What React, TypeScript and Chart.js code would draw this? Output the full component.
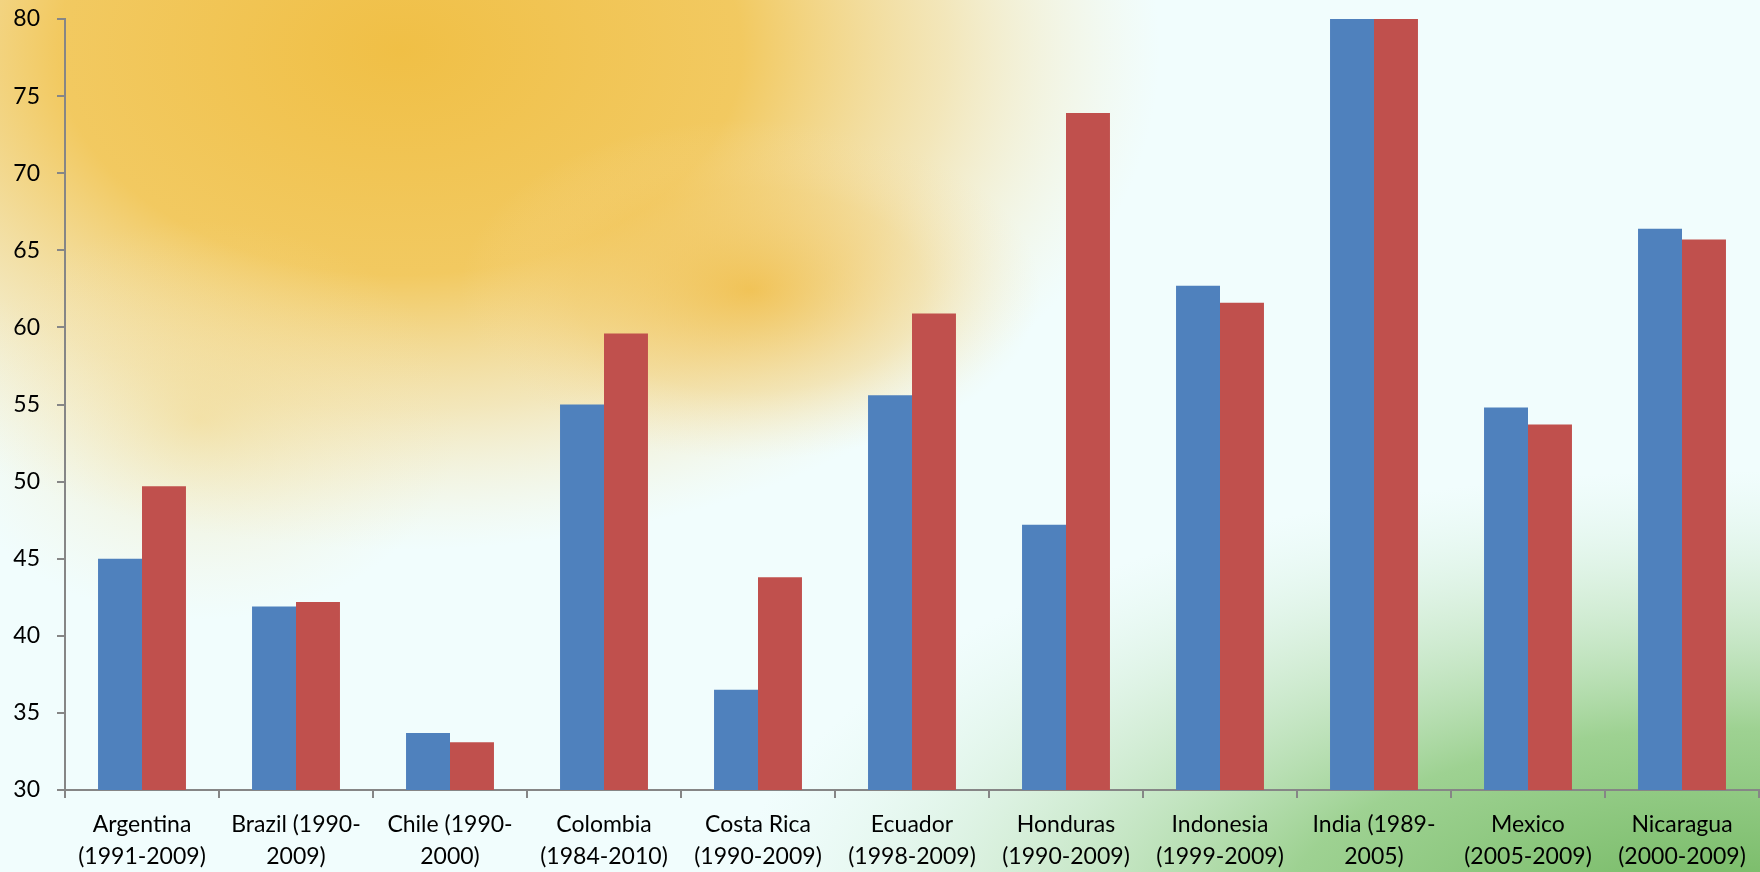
import React, { useEffect, useRef } from "react";
import { Chart, registerables } from "chart.js";

Chart.register(...registerables);

const categories: string[][] = [
  ["Argentina", "(1991-2009)"],
  ["Brazil (1990-", "2009)"],
  ["Chile (1990-", "2000)"],
  ["Colombia", "(1984-2010)"],
  ["Costa Rica", "(1990-2009)"],
  ["Ecuador", "(1998-2009)"],
  ["Honduras", "(1990-2009)"],
  ["Indonesia", "(1999-2009)"],
  ["India (1989-", "2005)"],
  ["Mexico", "(2005-2009)"],
  ["Nicaragua", "(2000-2009)"],
];

const series1: number[] = [45.0, 41.9, 33.7, 55.0, 36.5, 55.6, 47.2, 62.7, 80, 54.8, 66.4];
const series2: number[] = [49.7, 42.2, 33.1, 59.6, 43.8, 60.9, 73.9, 61.6, 80, 53.7, 65.7];

const yMin = 30;
const yMax = 80;
const yStep = 5;

const backgroundPlugin = {
  id: "bgPaint",
  beforeDraw(chart: any) {
    const { ctx, width, height } = chart;
    ctx.save();
    ctx.fillStyle = "#f1fdfd";
    ctx.fillRect(0, 0, width, height);

    const blob = (cx: number, cy: number, rx: number, ry: number, stops: [number, string][]) => {
      ctx.save();
      ctx.translate(cx, cy);
      ctx.scale(rx / ry, 1);
      const g = ctx.createRadialGradient(0, 0, 0, 0, 0, ry);
      stops.forEach(([o, c]) => g.addColorStop(o, c));
      ctx.fillStyle = g;
      ctx.beginPath();
      ctx.arc(0, 0, ry, 0, Math.PI * 2);
      ctx.fill();
      ctx.restore();
    };

    // green bottom-right
    blob(1720, 940, 1000, 470, [
      [0, "rgba(100,175,80,0.95)"],
      [0.45, "rgba(130,195,110,0.75)"],
      [0.75, "rgba(170,215,160,0.35)"],
      [1, "rgba(200,235,210,0)"],
    ]);
    // orange sun
    blob(400, 50, 760, 500, [
      [0, "rgba(240,188,60,0.95)"],
      [0.45, "rgba(242,194,75,0.88)"],
      [0.72, "rgba(244,208,120,0.5)"],
      [1, "rgba(248,230,180,0)"],
    ]);
    blob(750, 290, 290, 170, [
      [0, "rgba(240,182,52,0.7)"],
      [0.6, "rgba(243,200,100,0.35)"],
      [1, "rgba(248,225,170,0)"],
    ]);
    blob(200, 420, 260, 200, [
      [0, "rgba(242,210,120,0.45)"],
      [1, "rgba(248,230,180,0)"],
    ]);
    ctx.restore();
  },
};

export default function App() {
  const ref = useRef<HTMLCanvasElement | null>(null);

  useEffect(() => {
    document.body.style.margin = "0";
    const canvas = ref.current;
    if (!canvas) return;
    const chart = new Chart(canvas, {
      type: "bar",
      data: {
        labels: categories,
        datasets: [
          { label: "Series 1", data: series1, backgroundColor: "#4F81BD", borderWidth: 0 },
          { label: "Series 2", data: series2, backgroundColor: "#C0504D", borderWidth: 0 },
        ],
      },
      plugins: [backgroundPlugin],
      options: {
        animation: false,
        responsive: false,
        maintainAspectRatio: false,
        layout: { padding: { top: 19, right: 1, bottom: 0, left: 0 } },
        plugins: {
          legend: { display: false },
          tooltip: { enabled: false },
        },
        datasets: {
          bar: { categoryPercentage: 0.571, barPercentage: 1.0 },
        },
        scales: {
          x: {
            afterFit(scale: any) {
              scale.height = 82;
              scale.paddingLeft = 0;
              scale.paddingRight = 0;
            },
            grid: {
              offset: true,
              drawOnChartArea: false,
              drawTicks: true,
              tickLength: 8,
              color: "#868686",
              lineWidth: 2,
            },
            border: { display: true, color: "#868686", width: 2 },
            ticks: {
              autoSkip: false,
              maxRotation: 0,
              minRotation: 0,
              padding: 10,
              color: "#000000",
              font: { family: "Lato", size: 23, lineHeight: 1.42 },
            },
          },
          y: {
            min: yMin,
            max: yMax,
            afterFit(scale: any) {
              scale.width = 65;
              scale.paddingTop = 0;
              scale.paddingBottom = 0;
            },
            grid: {
              drawOnChartArea: false,
              drawTicks: true,
              tickLength: 8,
              color: "#868686",
              lineWidth: 2,
            },
            border: { display: true, color: "#868686", width: 2 },
            ticks: {
              stepSize: yStep,
              padding: 17,
              color: "#000000",
              font: { family: "Lato", size: 23 },
            },
          },
        },
      },
    });
    return () => chart.destroy();
  }, []);

  return (
    <div style={{ position: "absolute", left: 0, top: 0, width: 1760, height: 872 }}>
      <canvas ref={ref} width={1760} height={872} style={{ display: "block", width: 1760, height: 872 }} />
    </div>
  );
}
